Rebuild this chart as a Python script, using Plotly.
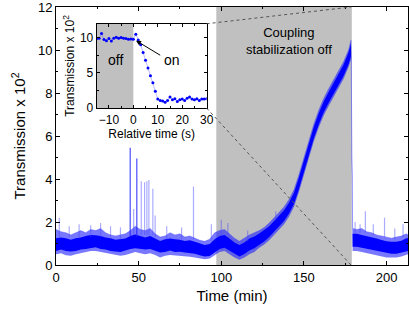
import plotly.graph_objects as go

# ---------------- data ----------------
# main trace: time (min), band centre and envelopes (transmission x 10^2)
t_min = [0, 3, 6, 9, 12, 15, 18, 21, 24, 27, 30, 33, 36, 39, 42, 45, 48, 51, 54, 57,
         60, 63, 66, 69, 72, 75, 78, 81, 84, 87, 90, 93, 96, 99, 102, 105, 108, 111, 114, 117,
         120, 123, 126, 129, 132, 135, 138, 141, 144, 147, 150, 153, 156, 159, 162, 165, 168, 171, 174, 177,
         178.5, 179.5, 182, 185, 188, 191, 194, 197, 200, 203, 206, 209, 212, 213]
center = [0.95, 1.0, 0.95, 0.9, 0.95, 1.0, 1.05, 1.1, 1.1, 1.05, 1.0, 0.95, 0.9, 0.9, 0.95, 1.05, 1.1, 1.05, 1.0, 1.05,
          0.95, 0.85, 0.9, 0.95, 0.9, 0.9, 0.85, 0.85, 0.8, 0.72, 0.66, 0.7, 0.9, 1.05, 1.1, 0.95, 0.78, 0.66, 0.78, 0.95,
          1.05, 1.2, 1.35, 1.55, 1.8, 2.05, 2.3, 2.65, 3.1, 3.8, 4.6, 5.4, 6.15, 6.8, 7.35, 7.8, 8.2, 8.6, 9.05, 9.6,
          10.0, 1.15, 1.15, 1.1, 1.05, 1.0, 0.95, 0.88, 0.82, 0.8, 0.8, 0.85, 0.95, 0.95]
core_spread = [0.3, 0.28, 0.3, 0.27, 0.3, 0.28, 0.3, 0.3, 0.28, 0.3, 0.28, 0.3, 0.27, 0.3, 0.28, 0.3, 0.32, 0.3, 0.28, 0.3,
               0.28, 0.27, 0.3, 0.28, 0.3, 0.28, 0.27, 0.3, 0.28, 0.27, 0.27, 0.28, 0.3, 0.3, 0.3, 0.28, 0.27, 0.27, 0.27, 0.28,
               0.27, 0.26, 0.26, 0.25, 0.25, 0.25, 0.25, 0.25, 0.26, 0.27, 0.27, 0.27, 0.27, 0.26, 0.25, 0.25, 0.25, 0.25, 0.26, 0.28,
               0.3, 0.3, 0.3, 0.3, 0.3, 0.28, 0.28, 0.28, 0.28, 0.28, 0.28, 0.28, 0.3, 0.3]
env_top = [1.65, 1.55, 1.5, 1.4, 1.5, 1.6, 1.5, 1.65, 1.6, 1.7, 1.5, 1.4, 1.35, 1.4, 1.45, 1.6, 1.8, 1.65, 1.6, 1.7,
           1.45, 1.3, 1.35, 1.5, 1.4, 1.45, 1.3, 1.35, 1.25, 1.15, 1.1, 1.2, 1.5, 1.6, 1.65, 1.45, 1.25, 1.1, 1.25, 1.4,
           1.5, 1.6, 1.75, 1.95, 2.2, 2.45, 2.7, 3.05, 3.5, 4.2, 5.0, 5.8, 6.55, 7.2, 7.75, 8.2, 8.6, 9.0, 9.45, 10.0,
           10.45, 1.7, 1.65, 1.7, 1.55, 1.5, 1.4, 1.35, 1.3, 1.25, 1.3, 1.35, 1.45, 1.4]
env_bot = [0.5, 0.55, 0.45, 0.43, 0.5, 0.55, 0.6, 0.65, 0.65, 0.6, 0.55, 0.5, 0.45, 0.43, 0.47, 0.55, 0.6, 0.55, 0.5, 0.55,
           0.47, 0.35, 0.43, 0.47, 0.45, 0.45, 0.4, 0.38, 0.35, 0.3, 0.27, 0.3, 0.45, 0.6, 0.65, 0.5, 0.35, 0.25, 0.35, 0.5,
           0.6, 0.8, 0.95, 1.15, 1.4, 1.65, 1.9, 2.25, 2.7, 3.4, 4.2, 5.0, 5.75, 6.4, 6.95, 7.4, 7.8, 8.2, 8.65, 9.2,
           9.55, 0.65, 0.65, 0.6, 0.55, 0.5, 0.45, 0.4, 0.35, 0.35, 0.35, 0.4, 0.5, 0.5]

# isolated spikes (time, top value, foot value)
strong_spike_t = [44.9, 48.9]
strong_spike_top = [5.45, 4.95]
strong_spike_base = [1.3, 1.3]
faint_spike_t = [2, 8, 14, 21, 27, 33, 39, 47, 51.6, 53.6, 55, 56.2, 58.6, 60, 67, 76, 83.2, 94, 100, 104,
                 116, 133, 181, 184, 187.2, 192, 198.8, 205, 210]
faint_spike_top = [2.2, 1.8, 1.9, 1.85, 1.95, 1.8, 1.75, 2.6, 3.9, 3.85, 3.9, 3.95, 3.55, 2.3, 1.8, 1.75, 3.65, 1.9, 2.1, 1.95,
                   1.6, 2.5, 2.0, 1.9, 2.5, 1.9, 2.2, 1.7, 1.9]
faint_spike_base = [1.3, 1.3, 1.3, 1.3, 1.3, 1.3, 1.2, 1.4, 1.4, 1.4, 1.4, 1.4, 1.4, 1.3, 1.2, 1.2, 1.2, 1.1, 1.4, 1.4,
                    1.1, 2.1, 1.5, 1.5, 1.5, 1.4, 1.3, 1.2, 1.3]

# stabilization-off interval (min)
off_start, off_end = 97, 179
# instant the stabilization is switched on (min), for the zoom lines
t_on = 178.5

# inset: relative time (s) and transmission x 10^2
rel_t = list(range(-15, 31))
rel_T = [9.9, 9.95, 10.6, 9.75, 9.6, 9.9, 9.55, 9.95, 10.1, 9.95, 10.05, 9.95, 9.9, 9.8, 9.85,
         9.8, 10.5, 9.7, 9.0, 7.9, 6.8, 5.7, 4.6, 3.6, 2.4, 1.3, 1.1, 1.0, 0.85, 1.1,
         1.6, 1.2, 1.35, 0.95, 1.2, 1.3, 1.1, 1.4, 1.6, 1.3, 1.2, 1.35, 1.1, 1.3, 1.3, 1.35]
inset_off = (-15, 0)

X_RANGE = [0, 213]
Y_RANGE = [0, 12]
IX_RANGE = [-15, 30]
IY_RANGE = [0, 12]
INSET_XDOM = [0.1156, 0.428]
INSET_YDOM = [0.608, 0.935]

FONT = "Liberation Sans, Arial, sans-serif"
BLUE = "#0000ff"

# ---------------- figure ----------------
fig = go.Figure()

# outer (fuzzy) envelope
fig.add_trace(go.Scatter(x=t_min, y=env_bot, mode="lines", line=dict(width=0, color=BLUE),
                         hoverinfo="skip"))
fig.add_trace(go.Scatter(x=t_min, y=env_top, mode="lines", line=dict(width=0.6, color="rgba(60,60,255,0.6)"),
                         fill="tonexty", fillcolor="rgba(30,30,255,0.6)", hoverinfo="skip"))
# dense core
core_lo = [c - s for c, s in zip(center, core_spread)]
core_hi = [c + s for c, s in zip(center, core_spread)]
fig.add_trace(go.Scatter(x=t_min, y=core_lo, mode="lines", line=dict(width=0, color=BLUE), hoverinfo="skip"))
fig.add_trace(go.Scatter(x=t_min, y=core_hi, mode="lines", line=dict(width=0, color=BLUE),
                         fill="tonexty", fillcolor=BLUE, hoverinfo="skip"))


def spike_xy(ts, tops, bases):
    xs, ys = [], []
    for t, top, b in zip(ts, tops, bases):
        xs += [t, t, None]
        ys += [b, top, None]
    return xs, ys


sx, sy = spike_xy(faint_spike_t, faint_spike_top, faint_spike_base)
fig.add_trace(go.Scatter(x=sx, y=sy, mode="lines", line=dict(width=1.2, color="rgba(70,70,255,0.45)"),
                         hoverinfo="skip"))
sx, sy = spike_xy(strong_spike_t, strong_spike_top, strong_spike_base)
fig.add_trace(go.Scatter(x=sx, y=sy, mode="lines", line=dict(width=1.2, color="rgba(30,30,255,0.8)"),
                         hoverinfo="skip"))

# inset trace
fig.add_trace(go.Scatter(x=rel_t, y=rel_T, xaxis="x2", yaxis="y2", mode="lines+markers",
                         line=dict(width=0.7, color="rgba(90,90,255,0.6)"),
                         marker=dict(size=3, color=BLUE), hoverinfo="skip"))

axis_common = dict(showline=True, linecolor="black", linewidth=1, mirror="allticks",
                   ticks="inside", ticklen=4, tickcolor="black", showgrid=False, zeroline=False,
                   automargin=False, ticklabeloverflow="allow")

fig.update_layout(
    width=409, height=309,
    margin=dict(l=56, r=1, t=7, b=44),
    plot_bgcolor="white", paper_bgcolor="white",
    showlegend=False,
    font=dict(family=FONT, size=13, color="black"),
    xaxis=dict(range=X_RANGE, dtick=50, tick0=0,
               minor=dict(dtick=25, ticks="inside", ticklen=2, tickcolor="black"),
               title=dict(text="Time (min)", font=dict(size=15), standoff=6),
               tickfont=dict(size=13), **axis_common),
    yaxis=dict(range=Y_RANGE, dtick=2, tick0=0,
               minor=dict(dtick=1, ticks="inside", ticklen=2, tickcolor="black"),
               title=dict(text="Transmission x 10<sup>2</sup>", font=dict(size=15), standoff=8),
               tickfont=dict(size=13), **axis_common),
    xaxis2=dict(domain=INSET_XDOM, anchor="y2", range=IX_RANGE, dtick=10, tick0=0,
                minor=dict(dtick=5, ticks="inside", ticklen=2, tickcolor="black"),
                title=dict(text="Relative time (s)", font=dict(size=12), standoff=2),
                tickfont=dict(size=12), **{**axis_common, "ticklen": 3}),
    yaxis2=dict(domain=INSET_YDOM, anchor="x2", range=IY_RANGE, dtick=5, tick0=0,
                minor=dict(dtick=2.5, ticks="inside", ticklen=2, tickcolor="black"),
                title=dict(text="Transmission x 10<sup>2</sup>", font=dict(size=12), standoff=2),
                tickfont=dict(size=12), **{**axis_common, "ticklen": 3}),
)

# grey "off" regions
fig.add_shape(type="rect", xref="x", yref="y", x0=off_start, x1=off_end, y0=Y_RANGE[0], y1=Y_RANGE[1],
              fillcolor="#c0c0c0", line=dict(width=0), layer="below")
fig.add_shape(type="rect", xref="x2", yref="y2", x0=inset_off[0], x1=inset_off[1], y0=IY_RANGE[0], y1=IY_RANGE[1],
              fillcolor="#c0c0c0", line=dict(width=0), layer="below")

# dashed zoom lines from inset corners to the switching instant
px_on = (t_on - X_RANGE[0]) / (X_RANGE[1] - X_RANGE[0])
for y_inset, y_main in ((INSET_YDOM[1], 1.0), (INSET_YDOM[0], 0.0)):
    fig.add_shape(type="line", xref="paper", yref="paper", x0=INSET_XDOM[1], y0=y_inset, x1=px_on, y1=y_main,
                  line=dict(color="#555555", width=1, dash="dot"))

fig.add_annotation(x=141, y=10.4, xref="x", yref="y", text="Coupling<br>stabilization off",
                   showarrow=False, font=dict(size=13))
fig.add_annotation(x=-7.5, y=6.8, xref="x2", yref="y2", text="off", showarrow=False, font=dict(size=14))
fig.add_annotation(x=15.8, y=6.8, xref="x2", yref="y2", text="on", showarrow=False, font=dict(size=14))
fig.add_annotation(x=1.1, y=9.6, xref="x2", yref="y2", ax=11.6, ay=7.4, axref="x2", ayref="y2",
                   text="", showarrow=True, arrowhead=2, arrowsize=1, arrowwidth=1, arrowcolor="black")

fig.write_html("out.html",
               config={"displayModeBar": False},
               post_script="document.body.style.margin='0';document.body.style.padding='0';")
